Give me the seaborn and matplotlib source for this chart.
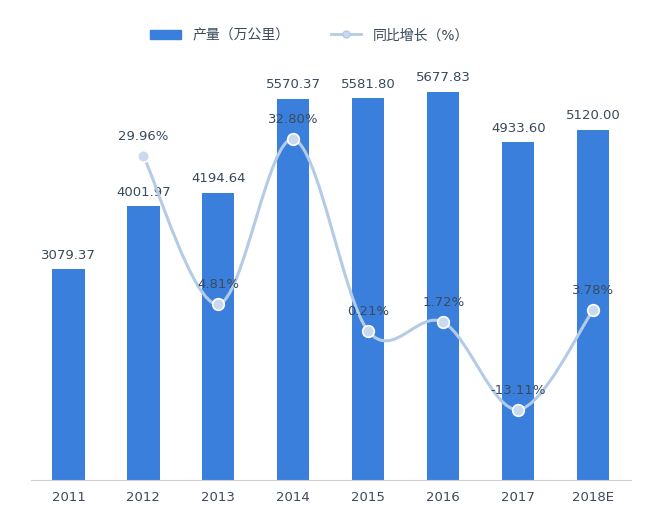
import matplotlib
matplotlib.use("Agg")
import matplotlib.pyplot as plt
from matplotlib import font_manager
import numpy as np
import pandas as pd
import seaborn as sns
from matplotlib.path import Path
from matplotlib.patches import PathPatch, Patch
from matplotlib.lines import Line2D

cjk = sorted({f.name for f in font_manager.fontManager.ttflist if "CJK" in f.name and "Sans" in f.name})
cjk = [n for n in cjk if n.endswith("SC")] + cjk
plt.rcParams["font.family"] = ["DejaVu Sans"] + cjk[:1]

years = ["2011", "2012", "2013", "2014", "2015", "2016", "2017", "2018E"]
output = [3079.37, 4001.97, 4194.64, 5570.37, 5581.80, 5677.83, 4933.60, 5120.00]
growth_years = ["2012", "2013", "2014", "2015", "2016", "2017", "2018E"]
growth = [29.96, 4.81, 32.80, 0.21, 1.72, -13.11, 3.78]

BAR = "#3b7fdc"
LINE = "#b4cbe6"
TXT = "#3a4a5c"

df = pd.DataFrame({"year": years, "output": output})

fig = plt.figure(figsize=(6.59, 5.27), dpi=100)
ax = fig.add_axes([0.047, 0.09, 0.91, 0.86])
sns.barplot(data=df, x="year", y="output", color=BAR, width=0.43, saturation=1, ax=ax)
ax.set_ylim(0, 6632)
ax.set_xlim(-0.5, 7.5)
for i, v in enumerate(output):
    ax.text(i, v + 110, f"{v:.2f}", ha="center", va="bottom", fontsize=9.5, color=TXT)

ax2 = ax.twinx()
ax2.set_ylim(-25, 52)
xs = np.array([years.index(y) for y in growth_years], dtype=float)
ys = np.array(growth)
# smooth curve drawn as Bezier segments through the data points
verts = [(xs[0], ys[0])]
codes = [Path.MOVETO]
for k in range(len(xs) - 1):
    p0 = (xs[k - 1], ys[k - 1]) if k > 0 else (xs[k], ys[k])
    p3 = (xs[k + 2], ys[k + 2]) if k + 2 < len(xs) else (xs[k + 1], ys[k + 1])
    p1 = (xs[k], ys[k]); p2 = (xs[k + 1], ys[k + 1])
    c1 = (p1[0] + (p2[0] - p0[0]) / 6, p1[1] + (p2[1] - p0[1]) / 6)
    c2 = (p2[0] - (p3[0] - p1[0]) / 6, p2[1] - (p3[1] - p1[1]) / 6)
    verts += [c1, c2, p2]
    codes += [Path.CURVE4] * 3
ax2.add_patch(PathPatch(Path(verts, codes), facecolor="none", edgecolor=LINE, lw=2.2))
sns.scatterplot(x=xs, y=ys, color="#c9d9ee", edgecolor="white", s=70, zorder=5, ax=ax2, linewidth=1.2)
for x, y in zip(xs, ys):
    ax2.text(x, y + 2.2, f"{y:.2f}%", ha="center", va="bottom", fontsize=9.5, color=TXT)

for a in (ax, ax2):
    a.set_yticks([])
    a.set_ylabel("")
    for s in a.spines.values():
        s.set_visible(False)
ax.set_xlabel("")
ax.tick_params(axis="x", length=0, labelsize=9.5, colors=TXT, pad=8)
ax.spines["bottom"].set_visible(True)
ax.spines["bottom"].set_color("#d0d0d0")

handles = [Patch(color=BAR), Line2D([0], [0], color=LINE, lw=2, marker="o", markersize=5, markerfacecolor="#c9d9ee")]
fig.legend(handles, ["产量（万公里）", "同比增长（%）"], loc="upper center", bbox_to_anchor=(0.47, 0.97),
           ncol=2, frameon=False, fontsize=10, handlelength=2.2, columnspacing=3, labelcolor=TXT)
fig.savefig("out.png", dpi=100)
